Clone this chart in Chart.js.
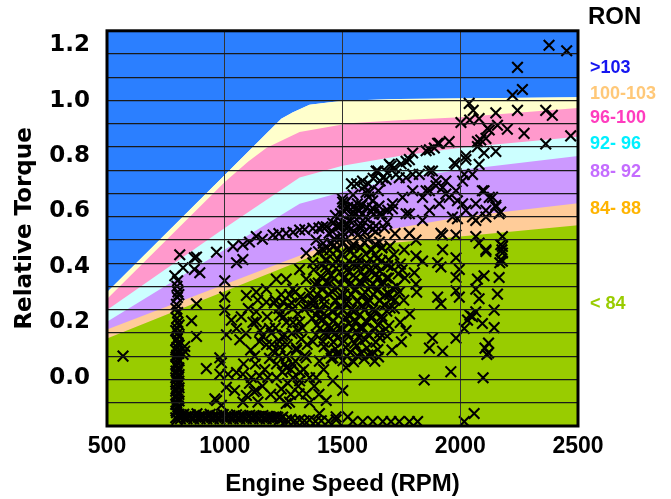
<!DOCTYPE html>
<html>
<head>
<meta charset="utf-8">
<script src="https://cdn.jsdelivr.net/npm/chart.js@4.4.0/dist/chart.umd.min.js"></script>
<style>
	html, body { margin: 0; padding: 0; background: #fff; }
	#box { width: 671px; height: 499px; }
</style>
</head>
<body>
<div id="box"><canvas id="my_chart" width="671" height="499"></canvas></div>
<script>

// Axis ranges
const speedRange = [500, 2500]
const torqueRange = [-0.174, 1.252]

// Upper edge of each RON zone, [rpm, relative torque]
const edgeUnder84 = [[500, 0.142], [1000, 0.312], [1450, 0.466], [2000, 0.51], [2500, 0.55]]
const edge84to88 = [[500, 0.174], [1530, 0.51], [2000, 0.58], [2500, 0.63]]
const edge88to92 = [[500, 0.202], [1318, 0.628], [1500, 0.67], [1741, 0.72], [2000, 0.75], [2500, 0.8]]
const edge92to96 = [[500, 0.245], [1000, 0.54], [1318, 0.723], [1500, 0.765], [1741, 0.8], [2000, 0.83], [2500, 0.87]]
const edge96to100 = [[500, 0.284], [1000, 0.706], [1100, 0.78], [1178, 0.83], [1318, 0.887], [1530, 0.918], [1741, 0.929], [2000, 0.94], [2500, 0.973]]
const edge100to103 = [[500, 0.309], [1240, 0.935], [1290, 0.958], [1360, 0.985], [1500, 1.0], [1741, 1.006], [2500, 1.012]]

const zoneColors = ['#99cc00', '#ffcc99', '#cc99ff', '#ccffff', '#ff99cc', '#ffffcc']
const aboveColor = '#2b7fff'

// RON key on the right
const ronLabels = ['>103', '100-103', '96-100', '92- 96', '88- 92', '84- 88', '< 84']
const ronLabelTorque = [1.117, 1.025, 0.936, 0.844, 0.741, 0.61, 0.266]
const ronLabelColors = ['#1616f0', '#ffc878', '#ff3cbe', '#00f0ff', '#c46cff', '#ffb400', '#99cc00']

// Operating points [rpm, relative torque]
const idleColumn = [
	[797, -0.15], [801, -0.138], [795, -0.126], [799, -0.114], [803, -0.102], [796, -0.09], [800, -0.078],
	[797, -0.066], [802, -0.054], [795, -0.042], [799, -0.03], [801, -0.018], [796, -0.006], [800, 0.006],
	[797, 0.018], [802, 0.03], [795, 0.042], [799, 0.055], [801, 0.068], [796, 0.082], [800, 0.095],
	[797, 0.11], [802, 0.125], [798, 0.14], [800, 0.16], [796, 0.18], [801, 0.2], [797, 0.215],
	[800, 0.235], [795, 0.265], [799, 0.29], [801, 0.31], [797, 0.33], [800, 0.35], [788, 0.368],
	[792, -0.144], [806, -0.132], [793, -0.12], [805, -0.108], [792, -0.096], [806, -0.084], [793, -0.072],
	[805, -0.06], [792, -0.048], [806, -0.036], [793, -0.024], [805, -0.012], [792, 0.0], [806, 0.012],
	[793, 0.024], [805, 0.036], [792, 0.048], [806, 0.062], [793, 0.075], [805, 0.088], [792, 0.1],
	[806, 0.118], [793, 0.135], [805, 0.15], [792, 0.17], [806, 0.19], [793, 0.25], [805, 0.3]
]

const motoringRow = [
	[812, -0.148], [826, -0.132], [840, -0.148], [854, -0.134], [868, -0.148], [882, -0.13], [896, -0.148],
	[910, -0.135], [924, -0.148], [938, -0.132], [952, -0.148], [966, -0.136], [980, -0.148], [994, -0.133],
	[1008, -0.148], [1022, -0.136], [1036, -0.148], [1050, -0.134], [1064, -0.148], [1078, -0.137],
	[1092, -0.148], [1106, -0.135], [1120, -0.148], [1134, -0.138], [1148, -0.148], [1162, -0.136],
	[1176, -0.148], [1190, -0.14], [1204, -0.148], [1218, -0.14], [1232, -0.15], [1246, -0.142],
	[1262, -0.152], [1280, -0.15], [1298, -0.155], [1318, -0.152], [1338, -0.155], [1360, -0.152],
	[1385, -0.157], [1410, -0.155], [1440, -0.157], [1473, -0.152], [1544, -0.158], [1586, -0.158],
	[1629, -0.158], [1671, -0.158], [1706, -0.158], [1741, -0.158], [1784, -0.158], [1819, -0.158],
	[2017, -0.158], [2059, -0.129],
	[819, -0.14], [833, -0.143], [847, -0.139], [861, -0.142], [875, -0.14], [889, -0.143], [903, -0.139],
	[917, -0.142], [931, -0.14], [945, -0.143], [959, -0.139], [973, -0.142], [987, -0.14], [1001, -0.143],
	[1015, -0.139], [1029, -0.142], [1043, -0.14], [1057, -0.143], [1071, -0.139], [1085, -0.142],
	[1099, -0.14], [1113, -0.143], [1127, -0.139], [1141, -0.142], [1155, -0.14], [1169, -0.143],
	[1183, -0.14], [1197, -0.143], [1211, -0.145], [1225, -0.143], [1240, -0.146]
]

const lowSpeed = [
	[568, 0.078], [809, 0.444], [871, 0.433], [880, 0.436], [965, 0.453], [894, 0.379], [823, 0.397],
	[871, 0.391], [1000, 0.35], [1050, 0.415], [1077, 0.427], [880, 0.267], [859, 0.206], [880, 0.149],
	[922, 0.033], [830, 0.096], [830, 0.113], [823, 0.084], [1000, 0.291], [1000, 0.244], [1028, 0.208],
	[1050, 0.178], [1064, 0.137], [979, 0.072], [986, 0.054], [1007, 0.155], [965, -0.082], [979, 0.013],
	[1014, 0.013], [1050, 0.019], [1077, 0.013], [1113, 0.001], [1148, 0.007], [1183, 0.001],
	[1007, -0.034], [1042, -0.046], [958, -0.076], [986, -0.099], [1077, -0.088], [1092, -0.064],
	[1141, -0.088], [1134, -0.046], [1233, -0.07], [1275, -0.088], [1127, 0.078], [1148, 0.131],
	[1177, 0.119], [1205, 0.096], [1233, 0.131], [1261, 0.078], [1289, 0.049], [1198, 0.161],
	[1254, 0.155], [1092, 0.297], [1134, 0.309], [1177, 0.32], [1219, 0.356], [1261, 0.356], [1289, 0.32],
	[1035, 0.474], [1077, 0.48], [1105, 0.49], [1134, 0.51], [1160, 0.5], [1205, 0.515], [1230, 0.52],
	[1261, 0.521], [1290, 0.525], [1318, 0.533], [1340, 0.535], [1374, 0.539], [1400, 0.54], [1431, 0.545],
	[1487, 0.551], [1100, 0.25], [1120, 0.2], [1140, 0.28], [1160, 0.15], [1180, 0.22], [1200, 0.12],
	[1110, 0.1], [1130, 0.05], [1150, 0.17], [1170, 0.03], [1190, 0.07], [1210, 0.27], [1090, 0.16],
	[1105, -0.02], [1125, -0.05], [1160, -0.03], [1195, -0.06], [1220, 0.0], [1070, 0.22], [1080, 0.05],
	[1230, 0.25], [1250, 0.22], [1270, 0.26], [1290, 0.2], [1310, 0.23], [1330, 0.18], [1245, 0.15],
	[1265, 0.12], [1285, 0.16], [1305, 0.1], [1325, 0.14], [1340, 0.08], [1230, 0.08], [1255, 0.05],
	[1280, 0.03], [1300, 0.06], [1320, 0.02], [1215, 0.18], [1235, 0.11], [1275, 0.3], [1300, 0.31],
	[1320, 0.29], [1134, 0.238], [1177, 0.273], [1134, 0.202], [1190, 0.178], [1233, 0.226], [1247, 0.273],
	[1289, 0.249], [1332, 0.285], [1261, 0.037], [1318, -0.011], [1346, -0.058], [1261, -0.093],
	[1304, 0.107], [1316, -0.058],
	[1215, 0.28], [1240, 0.3], [1262, 0.2], [1285, 0.27], [1310, 0.17], [1335, 0.25], [1350, 0.12],
	[1220, 0.05], [1245, 0.02], [1268, -0.02], [1290, 0.0], [1312, -0.03], [1335, 0.03], [1360, 0.0],
	[1240, -0.04], [1280, -0.06], [1360, -0.09], [1380, -0.03], [1400, -0.06], [1420, 0.03]
]

const midSpeed = [
	[1318, 0.391], [1346, 0.356], [1374, 0.415], [1417, 0.462], [1459, 0.474], [1501, 0.51], [1346, 0.45],
	[1388, 0.497], [1374, 0.261], [1318, 0.202], [1402, 0.214], [1459, 0.238], [1487, 0.178], [1431, 0.155],
	[1374, 0.131], [1346, 0.072], [1402, 0.06], [1459, 0.072], [1515, 0.037], [1388, 0.001], [1459, -0.011],
	[1431, -0.082], [1501, -0.046], [1402, -0.129], [1473, -0.141], [1522, -0.141],
	[1643, 0.746], [1706, 0.764], [1685, 0.716], [1727, 0.734], [1501, 0.634], [1544, 0.616], [1600, 0.669],
	[1628, 0.639], [1572, 0.58], [1657, 0.592], [1713, 0.628], [1515, 0.557], [1459, 0.557], [1417, 0.545],
	[1500, 0.645], [1522, 0.615], [1545, 0.66], [1563, 0.628], [1592, 0.69], [1611, 0.652], [1627, 0.612],
	[1652, 0.675], [1538, 0.7], [1582, 0.622],
	[1470, 0.585], [1492, 0.548], [1508, 0.6], [1533, 0.565], [1553, 0.592], [1577, 0.538], [1598, 0.578],
	[1622, 0.6], [1641, 0.548], [1667, 0.59], [1688, 0.56], [1712, 0.61],
	[1418, 0.485], [1443, 0.522], [1463, 0.5], [1482, 0.545], [1502, 0.49], [1527, 0.53], [1544, 0.472],
	[1568, 0.518], [1583, 0.55], [1607, 0.5], [1628, 0.535], [1657, 0.49], [1678, 0.54], [1702, 0.475],
	[1723, 0.52],
	[1398, 0.455], [1427, 0.425], [1446, 0.46], [1471, 0.418], [1493, 0.448], [1517, 0.405], [1533, 0.455],
	[1562, 0.43], [1578, 0.47], [1602, 0.415], [1623, 0.46], [1647, 0.43], [1668, 0.47], [1697, 0.425],
	[1718, 0.445], [1746, 0.41],
	[1378, 0.39], [1407, 0.365], [1428, 0.4], [1452, 0.37], [1473, 0.395], [1502, 0.36], [1518, 0.388],
	[1547, 0.37], [1568, 0.405], [1592, 0.365], [1613, 0.39], [1642, 0.375], [1658, 0.385], [1687, 0.36],
	[1708, 0.4], [1737, 0.375], [1753, 0.39],
	[1362, 0.305], [1383, 0.338], [1412, 0.32], [1433, 0.345], [1457, 0.31], [1478, 0.325], [1507, 0.302],
	[1528, 0.335], [1552, 0.318], [1573, 0.345], [1597, 0.308], [1618, 0.33], [1647, 0.315], [1663, 0.34],
	[1692, 0.305], [1713, 0.322], [1742, 0.31],
	[1348, 0.255], [1377, 0.275], [1398, 0.245], [1422, 0.265], [1443, 0.25], [1472, 0.278], [1488, 0.255],
	[1517, 0.268], [1538, 0.245], [1562, 0.275], [1583, 0.258], [1607, 0.27], [1628, 0.245], [1657, 0.278],
	[1678, 0.262], [1702, 0.252], [1723, 0.28],
	[1372, 0.215], [1393, 0.19], [1417, 0.212], [1438, 0.185], [1462, 0.205], [1483, 0.19], [1512, 0.218],
	[1528, 0.195], [1557, 0.205], [1573, 0.182], [1602, 0.2], [1623, 0.215], [1652, 0.19], [1668, 0.21],
	[1697, 0.188],
	[1388, 0.155], [1417, 0.13], [1438, 0.15], [1462, 0.128], [1478, 0.145], [1507, 0.132], [1523, 0.158],
	[1552, 0.125], [1568, 0.148], [1597, 0.138], [1613, 0.152], [1642, 0.128], [1658, 0.145],
	[1452, 0.07], [1473, 0.085], [1502, 0.062], [1518, 0.078], [1547, 0.058], [1563, 0.08], [1592, 0.068],
	[1608, 0.082], [1637, 0.06], [1653, 0.075],
	[1700, 0.3], [1720, 0.25], [1745, 0.2], [1760, 0.28], [1770, 0.17], [1690, 0.15], [1710, 0.1],
	[1730, 0.33], [1765, 0.36], [1785, 0.23], [1750, 0.13]
]

// Dense core of the mid-speed cloud
const midCore = [
	[1422, 0.112], [1443, 0.088], [1470, 0.105], [1488, 0.082], [1514, 0.11], [1533, 0.092], [1559, 0.115],
	[1578, 0.09], [1604, 0.108], [1623, 0.085], [1650, 0.102],
	[1404, 0.178], [1423, 0.162], [1452, 0.18], [1470, 0.16], [1497, 0.175], [1516, 0.158], [1542, 0.182],
	[1560, 0.165], [1587, 0.18], [1608, 0.158], [1637, 0.178], [1658, 0.162], [1684, 0.176],
	[1387, 0.228], [1408, 0.242], [1434, 0.222], [1455, 0.24], [1482, 0.225], [1500, 0.245], [1529, 0.222],
	[1548, 0.24], [1574, 0.228], [1593, 0.245], [1620, 0.225], [1640, 0.242], [1667, 0.222], [1688, 0.24],
	[1374, 0.282], [1393, 0.3], [1422, 0.284], [1441, 0.302], [1470, 0.28], [1490, 0.298], [1518, 0.282],
	[1538, 0.3], [1565, 0.278], [1584, 0.298], [1612, 0.282], [1631, 0.3], [1659, 0.28], [1678, 0.298],
	[1707, 0.284],
	[1397, 0.342], [1416, 0.36], [1444, 0.34], [1463, 0.358], [1492, 0.338], [1510, 0.362], [1537, 0.342],
	[1556, 0.36], [1584, 0.34], [1603, 0.362], [1630, 0.338], [1650, 0.36], [1677, 0.342], [1696, 0.36],
	[1412, 0.405], [1433, 0.425], [1460, 0.405], [1480, 0.428], [1507, 0.402], [1526, 0.422], [1554, 0.405],
	[1573, 0.425], [1600, 0.402], [1618, 0.428], [1647, 0.405], [1666, 0.422], [1692, 0.405],
	[1434, 0.468], [1453, 0.485], [1480, 0.465], [1500, 0.485], [1527, 0.465], [1546, 0.482], [1574, 0.468],
	[1593, 0.488], [1620, 0.465], [1640, 0.482], [1667, 0.468],
	[1457, 0.528], [1476, 0.548], [1502, 0.525], [1522, 0.545], [1549, 0.528], [1568, 0.548], [1595, 0.525],
	[1614, 0.545], [1642, 0.528],
	[1492, 0.592], [1511, 0.612], [1538, 0.59], [1558, 0.612], [1585, 0.592], [1604, 0.615], [1632, 0.59],
	[1655, 0.62], [1560, 0.7], [1585, 0.71], [1610, 0.7], [1630, 0.72], [1660, 0.71], [1690, 0.74]
]

const highSpeed = [
	[2377, 1.2], [2452, 1.18], [2243, 1.12], [2264, 1.04], [2222, 1.02], [2038, 0.99], [2055, 0.965],
	[2151, 0.956], [2243, 0.965], [2363, 0.965], [2391, 0.947], [2003, 0.921], [2080, 0.935], [2158, 0.911],
	[2200, 0.897], [2123, 0.894], [2271, 0.882], [2469, 0.873], [2363, 0.844], [2151, 0.817], [2087, 0.858],
	[2109, 0.864], [2073, 0.834], [2116, 0.9], [2024, 0.787], [1982, 0.77], [1953, 0.852], [1911, 0.846],
	[1890, 0.829], [1855, 0.819], [1798, 0.811], [1784, 0.787], [1749, 0.772], [1720, 0.758], [1699, 0.77],
	[1650, 0.746], [1671, 0.722], [1741, 0.722], [1798, 0.734], [1869, 0.746], [1897, 0.71], [1939, 0.71],
	[2010, 0.71], [2052, 0.734], [1982, 0.675], [2094, 0.675], [2137, 0.651], [2151, 0.622], [2165, 0.592],
	[2109, 0.604], [2066, 0.628], [2010, 0.628], [1939, 0.663], [1869, 0.675], [1840, 0.651], [1798, 0.675],
	[1755, 0.651], [1614, 0.669], [1508, 0.628], [1572, 0.604], [1692, 0.604], [1784, 0.592], [1869, 0.604],
	[1967, 0.58], [2052, 0.58],
	[2101, 0.811], [2024, 0.8], [1904, 0.846], [1869, 0.823], [1770, 0.781], [1975, 0.775], [2080, 0.77],
	[2017, 0.734], [1882, 0.746], [1826, 0.734], [1770, 0.722], [1897, 0.693], [1855, 0.675], [1925, 0.687],
	[1953, 0.651], [1988, 0.639], [1911, 0.628], [2024, 0.604], [2101, 0.675], [2123, 0.651], [2151, 0.616],
	[2172, 0.598], [2109, 0.58], [2066, 0.568], [1988, 0.574], [1840, 0.568], [1770, 0.592], [1784, 0.521],
	[1918, 0.521], [1982, 0.515], [2066, 0.51], [2080, 0.486], [2109, 0.456], [2179, 0.51], [2172, 0.48],
	[2179, 0.45], [2172, 0.427], [1925, 0.462], [1982, 0.433], [1812, 0.439], [1762, 0.462], [2073, 0.852],
	[2040, 0.93],
	[1925, 0.515], [1812, 0.497], [2109, 0.462], [2179, 0.474], [2179, 0.421], [2165, 0.362], [2158, 0.302],
	[2144, 0.244], [2144, 0.181], [2120, 0.125], [2120, 0.09], [2097, 0.0], [1840, 0.421], [1805, 0.379],
	[1812, 0.338], [1815, 0.309], [1904, 0.415], [1918, 0.4], [1996, 0.391], [1982, 0.362], [1904, 0.291],
	[1918, 0.267], [1982, 0.314], [1996, 0.291], [2073, 0.356], [2101, 0.368], [2066, 0.32], [2080, 0.285],
	[2066, 0.238], [2052, 0.22], [2031, 0.208], [2017, 0.178], [1982, 0.143], [1882, 0.143], [1869, 0.107],
	[1925, 0.096], [1960, 0.022], [1847, -0.008], [2094, 0.196], [2113, 0.084], [2168, 0.415], [2177, 0.462],
	[2041, 0.226], [2105, 0.107]
]

const toPoints = (list) => list.map(p => ({x: p[0], y: p[1]}))

const edges = [edgeUnder84, edge84to88, edge88to92, edge92to96, edge96to100, edge100to103]

// Green zone sits on top, each higher zone is painted underneath the one below it
const zoneSets = edges.map((edge, i) => ({
	type: 'line',
	data: toPoints(edge),
	fill: 'start',
	backgroundColor: zoneColors[i],
	borderColor: 'transparent',
	borderWidth: 0,
	pointRadius: 0,
	order: i + 1
}))

zoneSets.push({
	type: 'line',
	data: toPoints(edge100to103),
	fill: 'end',
	backgroundColor: aboveColor,
	borderColor: 'transparent',
	borderWidth: 0,
	pointRadius: 0,
	order: 8
})

const allPoints = [].concat(idleColumn, motoringRow, lowSpeed, midSpeed, midCore, highSpeed)

const scatterSet = {
	type: 'scatter',
	data: toPoints(allPoints),
	pointStyle: 'crossRot',
	pointRadius: 7.5,
	pointBorderWidth: 2.1,
	borderColor: '#000',
	backgroundColor: '#000',
	order: 0
}

// Thick frame plus the RON key
const frame = {
	id: 'frame',
	afterDraw(chart) {
		const ctx = chart.ctx
		const a = chart.chartArea
		const y = chart.scales.y
		ctx.save()
		ctx.strokeStyle = '#000'
		ctx.lineWidth = 3
		ctx.strokeRect(a.left, a.top, a.right - a.left, a.bottom - a.top)

		ctx.textBaseline = 'middle'
		ctx.textAlign = 'left'
		ctx.fillStyle = '#000'
		ctx.font = 'bold 24px "Liberation Sans", Arial, sans-serif'
		ctx.fillText('RON', a.right + 10, 17)

		ctx.font = 'bold 18px "Liberation Sans", Arial, sans-serif'
		ronLabels.forEach((txt, i) => {
			ctx.fillStyle = ronLabelColors[i]
			ctx.fillText(txt, a.right + 12, y.getPixelForValue(ronLabelTorque[i]))
		})
		ctx.restore()
	}
}

const xFont = {family: '"Liberation Sans", Arial, sans-serif', weight: 'bold', size: 23}
const yFont = {family: '"DejaVu Sans", sans-serif', weight: 'bold', size: 23}

new Chart(document.getElementById('my_chart'), {
	type: 'scatter',
	data: {datasets: [scatterSet].concat(zoneSets)},
	plugins: [frame],
	options: {
		responsive: false,
		animation: false,
		layout: {padding: {top: 24, right: 93, bottom: 0, left: 0}},
		plugins: {legend: {display: false}, tooltip: {enabled: false}},
		scales: {
			x: {
				type: 'linear',
				min: speedRange[0],
				max: speedRange[1],
				ticks: {stepSize: 500, color: '#000', font: xFont, padding: 7, maxRotation: 0,
					callback: (v) => String(v)},
				grid: {color: '#333', lineWidth: 1, drawTicks: false, z: 1},
				border: {display: false},
				title: {display: true, text: 'Engine Speed (RPM)', color: '#000',
					font: {family: xFont.family, weight: 'bold', size: 24}, padding: {top: 0, bottom: 0}},
				afterFit: (s) => { s.height = 73 }
			},
			y: {
				type: 'linear',
				position: 'left',
				min: torqueRange[0],
				max: torqueRange[1],
				ticks: {stepSize: 0.2, includeBounds: false, color: '#000', font: yFont, padding: 17,
					callback: (v) => v.toFixed(1)},
				grid: {display: false, drawTicks: false},
				border: {display: false},
				title: {display: true, text: 'Relative Torque', color: '#000', font: yFont,
					padding: {top: 11, bottom: 0}},
				afterFit: (s) => { s.width = 107 }
			},
			rows: {
				type: 'linear',
				position: 'left',
				min: 0,
				max: 17,
				ticks: {display: false, stepSize: 1},
				grid: {color: '#1a1a1a', lineWidth: 1.3, drawTicks: false, z: 1},
				border: {display: false},
				afterFit: (s) => { s.width = 0 }
			}
		}
	}
})

</script>
</body>
</html>
